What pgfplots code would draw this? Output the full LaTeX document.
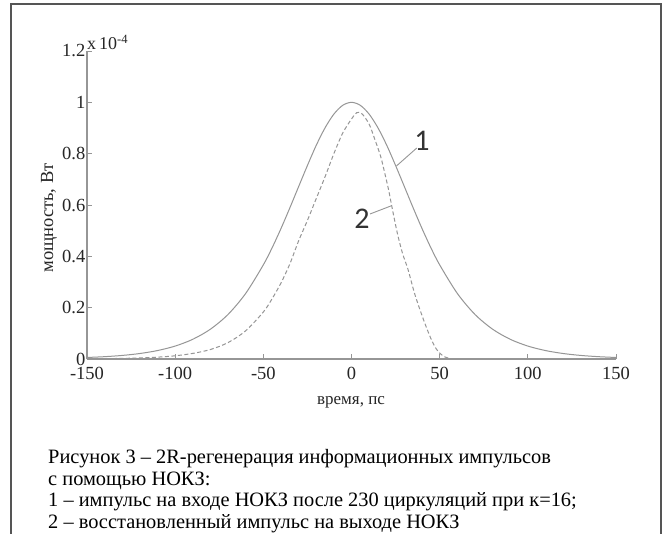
\documentclass[border=0pt]{standalone}
\usepackage{fontspec}
\setmainfont{Liberation Serif}
\newfontfamily\markfont{Carlito}
\usepackage{pgfplots}
\usepackage{pgfplotstable}
\pgfplotsset{compat=1.18}

\definecolor{framegray}{RGB}{85,85,85}
\definecolor{axgray}{RGB}{150,150,150}
\definecolor{curvegray}{RGB}{150,150,150}

% pulse at the input of the loop mirror after 230 round trips (units of 1e-4 W)
\pgfplotstableread{
t p
-150 0.0059
-140 0.0091
-130 0.0139
-120 0.0214
-110 0.0329
-100 0.0504
-90 0.0768
-80 0.1162
-70 0.1737
-60 0.2556
-50 0.3668
-45 0.4336
-40 0.5082
-35 0.5883
-30 0.6714
-25 0.7539
-20 0.8325
-15 0.9007
-10 0.9541
-5 0.9883
0 1.0000
5 0.9883
10 0.9541
15 0.9007
20 0.8325
25 0.7539
30 0.6714
35 0.5883
40 0.5082
45 0.4336
50 0.3668
60 0.2556
70 0.1737
80 0.1162
90 0.0768
100 0.0504
110 0.0329
120 0.0214
130 0.0139
140 0.0091
150 0.0059
}\inputpulse

% regenerated pulse at the output
\pgfplotstableread{
t p
-150 0.0008
-140 0.0014
-130 0.0024
-120 0.0041
-110 0.0072
-100 0.0125
-90 0.0218
-80 0.037
-70 0.064
-60 0.110
-50 0.183
-45 0.235
-40 0.296
-35 0.37
-30 0.46
-25 0.54
-20 0.625
-15 0.71
-10 0.80
-5 0.88
0 0.935
3 0.96
6 0.955
10 0.915
13 0.86
16.5 0.79
19 0.72
21 0.66
23 0.59
26 0.49
29 0.41
32 0.35
36 0.25
41 0.15
45 0.08
48 0.04
50.5 0.02
53 0.008
56 0.002
60 0
150 0
}\outputpulse

\begin{document}
\begin{tikzpicture}[x=1pt,y=1pt]
\useasboundingbox (0,0) rectangle (668,533);
\fill[white] (0,0) rectangle (668,533);
% figure frame, open at the bottom
\draw[framegray, line width=1.4pt] (11,-10) -- (11,529) -- (661,529) -- (661,-10);

\begin{axis}[
  at={(87pt,174pt)}, anchor=south west,
  scale only axis, width=529pt, height=308pt,
  xmin=-150, xmax=150, ymin=0, ymax=1.2,
  axis lines*=left,
  axis line style={draw=axgray, line width=1.1pt},
  tick align=inside, major tick length=5pt,
  tick style={draw=axgray, line width=0.8pt},
  xtick={-150,-100,-50,0,50,100,150},
  xticklabels={-150,-100,-50,0,50,100,150},
  ytick={0,0.2,0.4,0.6,0.8,1,1.2},
  yticklabels={0,0.2,0.4,0.6,0.8,1,1.2},
  ticklabel style={font=\fontsize{18.5}{18.5}\selectfont, text=black!85, inner sep=1.5pt},
  xticklabel style={yshift=-6pt},
  /pgf/number format/assume math mode=true,
  clip=false,
]
\addplot[curvegray, line width=1pt, smooth] table[x=t, y=p] {\inputpulse};
\addplot[curvegray, line width=1pt, dash pattern=on 4pt off 2.5pt, smooth] table[x=t, y=p] {\outputpulse};

% curve markers
\draw[curvegray, line width=0.9pt] (axis cs:25.5,0.752) -- (axis cs:37,0.822);
\node[font=\markfont\fontsize{30}{30}\selectfont, text=black!80] at (axis cs:40,0.85) {1};
\draw[curvegray, line width=0.9pt] (axis cs:22.6,0.597) -- (axis cs:10.5,0.565);
\node[font=\markfont\fontsize{30}{30}\selectfont, text=black!80] at (axis cs:6.0,0.545) {2};

% scale factor of the power axis
\node[anchor=base west, font=\fontsize{18}{18}\selectfont, text=black!85, inner sep=0pt]
  at ([yshift=1pt]axis cs:-150,1.2) {x\,10\textsuperscript{-4}};
\end{axis}

% axis titles
\node[rotate=90, font=\fontsize{18.5}{18.5}\selectfont, text=black!85] at (49,315) {мощность, Вт};
\node[anchor=base, font=\fontsize{17}{17}\selectfont, text=black!85] at (351,129) {время, пс};

% caption
\begin{scope}[every node/.style={anchor=base west, inner sep=0pt, font=\fontsize{20.4}{24}\selectfont}]
\node at (48,69.5) {Рисунок 3 – 2R-регенерация информационных импульсов};
\node at (48,48) {с помощью НОКЗ:};
\node at (48,26.5) {1 – импульс на входе НОКЗ после 230 циркуляций при к=16;};
\node at (48,5) {2 – восстановленный импульс на выходе НОКЗ};
\end{scope}
\end{tikzpicture}
\end{document}
